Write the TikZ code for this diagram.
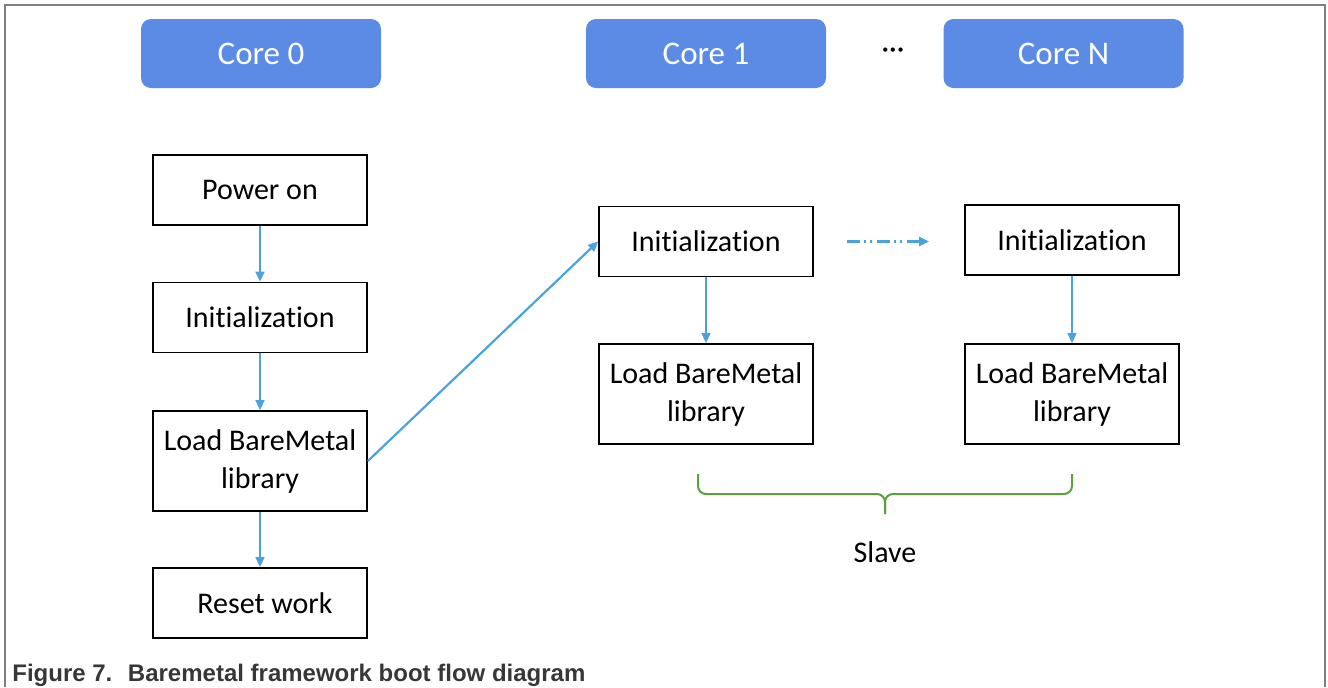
\documentclass[tikz,border=0pt]{standalone}
\usepackage{fontspec}
\setmainfont{Carlito}[Ligatures=NoCommon]
\newfontfamily\capfont{Liberation Sans}
\usetikzlibrary{arrows.meta}
\definecolor{coreblue}{RGB}{91,139,228}
\definecolor{flowblue}{RGB}{74,163,223}
\definecolor{bracegreen}{RGB}{90,160,60}
\definecolor{framegray}{RGB}{128,128,128}
\definecolor{capgray}{RGB}{55,55,55}
\newcommand{\inittext}{Init\kern0pt ializat\kern0pt ion}
\begin{document}
\begin{tikzpicture}[x=0.5pt, y=-0.5pt, >={Triangle[length=5pt,width=4.5pt]},
    core/.style={fill=coreblue, rounded corners=5pt, text=white, minimum width=120pt, minimum height=34.5pt, font=\fontsize{16.5}{19}\selectfont},
    stepbox/.style={draw, line width=0.9pt, minimum width=107pt, minimum height=35pt, align=center, font=\fontsize{15}{19}\selectfont},
    loadbox/.style={stepbox, minimum height=50pt},
    flow/.style={->, flowblue, line width=0.8pt}]
    \useasboundingbox (0,0) rectangle (1328,687);
    \draw[framegray, line width=1pt] (5,687) -- (5,5) -- (1325,5) -- (1325,687);
    % core headers
    \node[core] (core0) at (261,53.5) {Core 0};
    \node[core] (core1) at (706,53.5) {Core 1};
    \node[core] (coreN) at (1063.5,53.5) {Core N};
    \node[font=\fontsize{15}{19}\selectfont] (dots) at (893,53) {···};
    % core 0
    \node[stepbox] (power) at (260,190) {Power on};
    \node[stepbox] (init0) at (260,317.5) {\inittext};
    \node[loadbox] (load0) at (260,461) {Load BareMetal\\library};
    \node[stepbox] (reset) at (260,603) {\hspace{5pt}Reset work};
    % slaves
    \node[stepbox] (init1) at (706,241.5) {\inittext};
    \node[loadbox] (load1) at (706,394) {Load BareMetal\\library};
    \node[stepbox] (init2) at (1072,240) {\inittext};
    \node[loadbox] (load2) at (1072,394) {Load BareMetal\\library};
    \draw[flow] (power) -- (init0);
    \draw[flow] (init0) -- (load0);
    \draw[flow] (load0) -- (reset);
    \draw[flow, line width=1.1pt] (load0.east) -- (init1.west);
    \draw[flow] (init1) -- (load1);
    \draw[flow] (init2) -- (load2);
    \draw[flow, line width=1.1pt, shorten <=16.5pt, shorten >=17.5pt, dash pattern=on 6.5pt off 2pt on 1pt off 2pt on 1pt off 2.5pt] (init1.east) -- (init2.west |- init1.east);
    % brace
    \coordinate (bl) at (698,474);
    \coordinate (br) at (1072,474);
    \coordinate (btip) at (885,514);
    \draw[bracegreen, line width=1pt, rounded corners=4pt] (bl) |- (btip |- 0,494) -- (btip);
    \draw[bracegreen, line width=1pt, rounded corners=4pt] (br) |- (btip |- 0,494) -- (btip);
    \node[font=\fontsize{15}{19}\selectfont] (slave) at (885,552) {Slave};
    \node[anchor=base west, text=capgray, font=\capfont\bfseries\fontsize{12}{14}\selectfont, inner sep=0pt] (cap) at (12,681) {Figure 7.~ Baremetal framework boot flow diagram};
\end{tikzpicture}
\end{document}
